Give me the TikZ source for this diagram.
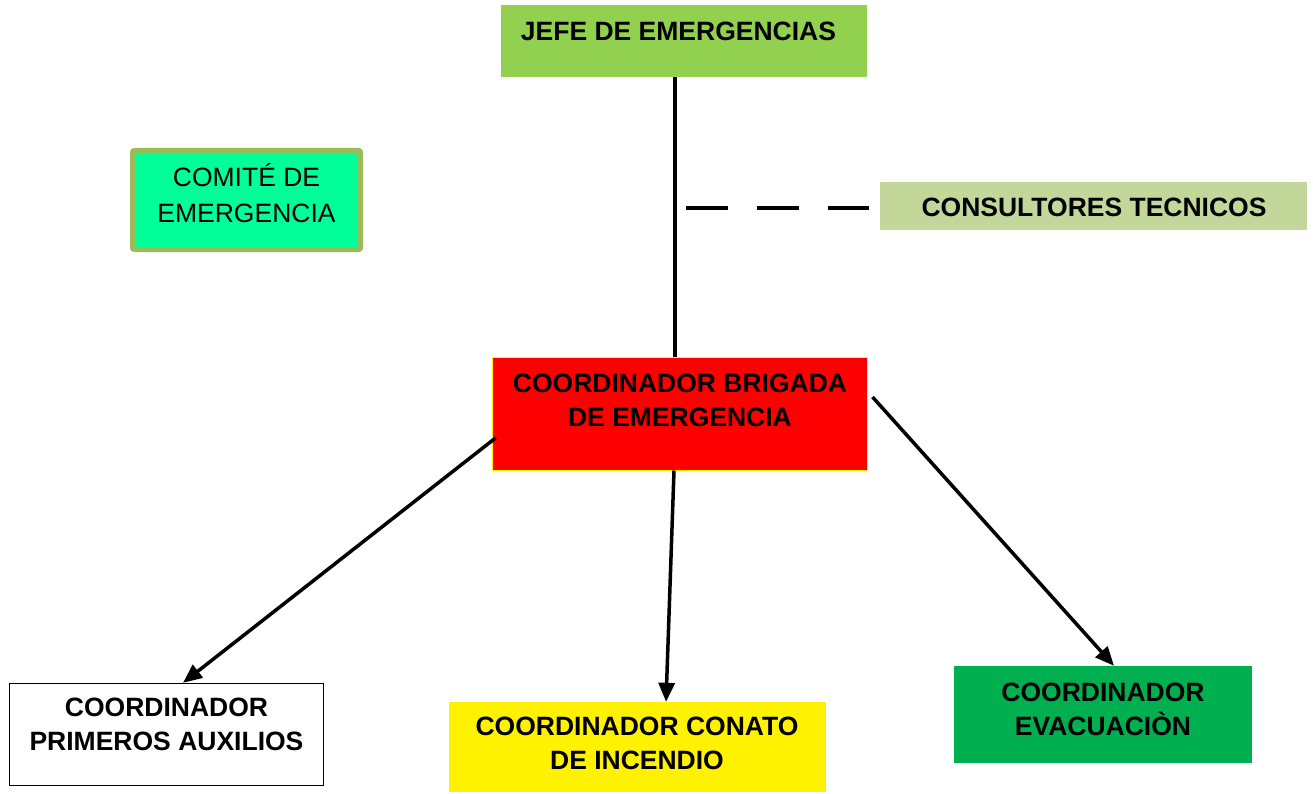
\documentclass[tikz,border=0pt]{standalone}
\usepackage{fontspec}
\setmainfont{Liberation Sans}
\usetikzlibrary{arrows.meta}
\definecolor{jefeg}{HTML}{92D050}
\definecolor{comfill}{HTML}{00FF99}
\definecolor{comdraw}{HTML}{9BBB59}
\definecolor{consg}{HTML}{C4D79B}
\definecolor{evacg}{HTML}{00B050}
\begin{document}
\begin{tikzpicture}[x=1pt,y=-1pt,
  box/.style={rectangle,inner sep=0pt,minimum width=#1},
  lbl/.style={font=\fontsize{26.5}{34}\selectfont\bfseries,align=center,inner sep=0pt},
  lblr/.style={font=\fontsize{26.5}{36}\selectfont,align=center,inner sep=0pt},
  conn/.style={line width=4pt},
  arr/.style={line width=3.5pt,-{Triangle[length=19pt,width=16pt]}}]
\useasboundingbox (0,0) rectangle (1313,794);
\fill[white] (0,0) rectangle (1313,794);
% boxes
\node[box=366pt,minimum height=72pt,fill=jefeg] (jefe) at (684,41) {};
\node[box=228pt,minimum height=99pt,fill=comfill,draw=comdraw,line width=5pt,rounded corners=2pt] (comite) at (246.5,200) {};
\node[box=427pt,minimum height=48pt,fill=consg] (consult) at (1093.5,206) {};
\node[box=375pt,minimum height=113pt,fill=red,draw=yellow,line width=1pt] (brig) at (679.5,413.5) {};
\node[box=314pt,minimum height=102pt,fill=white,draw=black,line width=1.3pt] (prim) at (166.5,734.5) {};
\node[box=377pt,minimum height=90pt,fill=yellow] (conato) at (637.5,747) {};
\node[box=298pt,minimum height=97pt,fill=evacg] (evac) at (1103,714.5) {};
% texts
\node[lbl] (jefe-t) at (678.5,31) {JEFE DE EMERGENCIAS};
\node[lblr] (comite-t) at (246.5,193.5) {COMITÉ DE\\EMERGENCIA};
\node[lbl] (consult-t) at (1094,207.5) {CONSULTORES TECNICOS};
\node[lbl] (brig-t) at (680,400.5) {COORDINADOR BRIGADA\\DE EMERGENCIA};
\node[lbl] (prim-t) at (166.5,724.5) {COORDINADOR\\PRIMEROS AUXILIOS};
\node[lbl] (conato-t) at (637,743) {COORDINADOR CONATO\\DE INCENDIO};
\node[lbl] (evac-t) at (1103,709) {COORDINADOR\\EVACUACIÒN};
% connectors
\draw[conn] ([xshift=-9pt]jefe.south) -- ([xshift=-4.5pt]brig.north);
\coordinate (dstart) at (686,208);
\draw[conn,dash pattern=on 42pt off 29pt] (dstart) -- ([xshift=-11pt]consult.west |- dstart);
\draw[arr] ([xshift=4pt,yshift=-24.5pt]brig.west) -- ([xshift=16.5pt]prim.north);
\draw[arr] ([xshift=-5.5pt]brig.south) -- ([xshift=28.5pt]conato.north);
\draw[arr] ([xshift=5pt,yshift=16.5pt]brig.east) -- ([xshift=11pt]evac.north);
\end{tikzpicture}
\end{document}
